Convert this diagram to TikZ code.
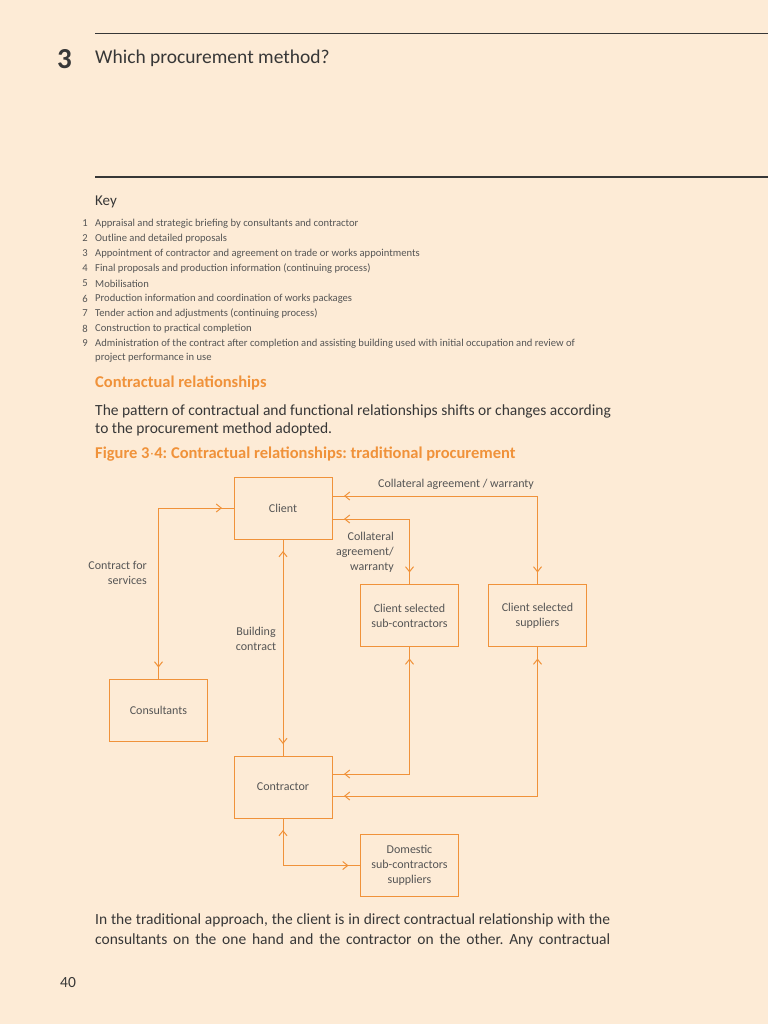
\documentclass[tikz,border=0pt]{standalone}
\usepackage{fontspec}
\setmainfont{Carlito}
\usetikzlibrary{arrows.meta,positioning,decorations.markings}
\definecolor{pagecream}{RGB}{253,235,214}
\definecolor{procorange}{RGB}{240,146,58}
\definecolor{inkgray}{RGB}{55,55,55}
\definecolor{keygray}{RGB}{85,85,85}
\frenchspacing

\begin{document}
\begin{tikzpicture}[
    x=1pt, y=-1pt,
    party/.style={rectangle, draw=procorange, line width=1pt, fill=none,
                  minimum width=98pt, minimum height=62pt, align=center,
                  text=keygray, font=\fontsize{12}{15}\selectfont,
                  inner sep=0pt, outer sep=0pt},
    linktext/.style={text=keygray, font=\fontsize{12}{15}\selectfont, inner sep=0pt},
    keyline/.style={anchor=west, align=left, text=keygray,
                    font=\fontsize{10.6}{14.5}\selectfont, inner sep=0pt},
    keynum/.style={anchor=center, text=keygray, font=\fontsize{10.6}{15}\selectfont, inner sep=0pt},
    bodytext/.style={anchor=west, align=left, text=inkgray,
                     font=\fontsize{15.5}{18}\selectfont, inner sep=0pt},
    headtext/.style={anchor=west, text=procorange,
                     font=\fontsize{16.5}{18}\selectfont\bfseries, inner sep=0pt},
    link/.style={color=procorange, line width=1pt, postaction={decorate},
                 decoration={markings,
                   mark=at position 12pt with {\arrowreversed{Straight Barb[length=5pt,width=8pt]}},
                   mark=at position -12pt with {\arrow{Straight Barb[length=5pt,width=8pt]}}}}
]
% Page
\fill[pagecream] (0,0) rectangle (768,1024);
\useasboundingbox (0,0) rectangle (768,1024);

% Header
\draw[inkgray, line width=0.9pt] (95,33) -- (768,33);
\node[anchor=center, text=inkgray, inner sep=0pt, font=\fontsize{29}{29}\selectfont\bfseries] (chapno) at (64.5,59) {3};
\node[anchor=west, text=inkgray, inner sep=0pt, font=\fontsize{19.5}{22}\selectfont] (chaptitle) at (95,58.5) {Which procurement method?};
\draw[inkgray, line width=1.6pt] (95,177) -- (768,177);

% Key
\node[anchor=west, text=inkgray, inner sep=0pt, font=\fontsize{15}{16}\selectfont] (keyhead) at (95,202) {Key};
\node[keynum] (n1) at (85,223.5) {1};
\node[keyline] (key1) at (95,223.5) {Appraisal and strategic briefing by consultants and contractor};
\node[keynum] (n2) at (85,238.5) {2};
\node[keyline] (key2) at (95,238.5) {Outline and detailed proposals};
\node[keynum] (n3) at (85,253.5) {3};
\node[keyline] (key3) at (95,253.5) {Appointment of contractor and agreement on trade or works appointments};
\node[keynum] (n4) at (85,268.5) {4};
\node[keyline] (key4) at (95,268.5) {Final proposals and production information (continuing process)};
\node[keynum] (n5) at (85,283.5) {5};
\node[keyline] (key5) at (95,283.5) {Mobilisation};
\node[keynum] (n6) at (85,298.5) {6};
\node[keyline] (key6) at (95,298.5) {Production information and coordination of works packages};
\node[keynum] (n7) at (85,313.5) {7};
\node[keyline] (key7) at (95,313.5) {Tender action and adjustments (continuing process)};
\node[keynum] (n8) at (85,328.5) {8};
\node[keyline] (key8) at (95,328.5) {Construction to practical completion};
\node[keynum] (n9) at (85,343.5) {9};
\node[keyline] (key9) at (95,350.5) {Administration of the contract after completion and assisting building used with initial occupation and review of\\project performance in use};

% Section text
\node[headtext] (secthead) at (95,382.5) {Contractual relationships};
\node[bodytext] (intro) at (95,420) {The pattern of contractual and functional relationships shifts or changes according\\to the procurement method adopted.};
\node[headtext] (figtitle) at (95,454.5) {Figure 3$\cdot$4: Contractual relationships: traditional procurement};

% Parties
\node[party] (client) at (283,508) {Client};
\node[party, below=217pt of client] (contractor) {Contractor};
\node[party] (sub) at (409.5,615.5) {Client selected\\sub-contractors};
\node[party, right=30pt of sub] (supp) {Client selected\\suppliers};
\node[party] (cons) at (158.5,710.5) {Consultants};
\node[party] (dom) at (409.5,865.5) {Domestic\\sub-contractors\\suppliers};

% Relationship labels
\node[linktext, anchor=center] (collsupp) at (456,484.5) {Collateral agreement / warranty};
\node[linktext, anchor=east, align=right] (collsub) at (394,552.5) {Collateral\\agreement/\\warranty};
\node[linktext, anchor=east, align=right] (services) at (147,573) {Contract for\\services};
\node[linktext, anchor=center, align=center] (building) at (256,639) {Building\\contract};

% Connectors
\draw[link] (cons.north) |- (client.west);
\draw[link] (client.south) -- (contractor.north);
\draw[link] ([yshift=-11pt]client.east) -| (sub.north);
\draw[link] ([yshift=12pt]client.east) -| (supp.north);
\draw[link] ([yshift=13pt]contractor.east) -| (sub.south);
\draw[link] ([yshift=-9pt]contractor.east) -| (supp.south);
\draw[link] (contractor.south) |- (dom.west);

% Closing text
\node[bodytext] (para1) at (95,920) {\makebox[515pt][s]{In the traditional approach, the client is in direct contractual relationship with the}};
\node[bodytext] (para2) at (95,940) {\makebox[515pt][s]{consultants on the one hand and the contractor on the other. Any contractual}};
\node[anchor=center, text=inkgray, inner sep=0pt, font=\fontsize{15.5}{16}\selectfont] (pageno) at (68,983) {40};
\end{tikzpicture}
\end{document}
